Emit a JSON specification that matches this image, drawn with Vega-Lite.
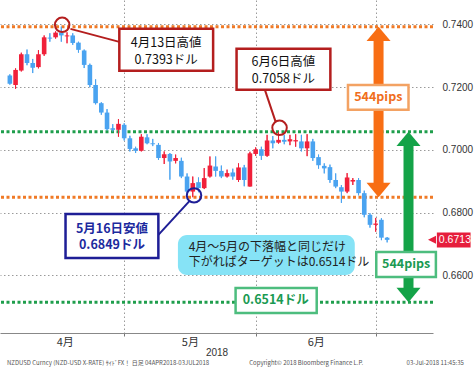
{
  "$schema": "https://vega.github.io/schema/vega-lite/v6.json",
  "width": 433,
  "height": 333,
  "autosize": {"type": "none"},
  "padding": {"left": 0, "top": 0, "right": 43, "bottom": 36},
  "background": "white",
  "config": {"view": {"stroke": null}},
  "datasets": {
    "candles": [
      {"date": "2018-04-02", "i": 0, "o": 0.7237, "h": 0.7241, "l": 0.7208, "c": 0.7211},
      {"date": "2018-04-03", "i": 1, "o": 0.7207, "h": 0.7260, "l": 0.7195, "c": 0.7255},
      {"date": "2018-04-04", "i": 2, "o": 0.7253, "h": 0.7310, "l": 0.7250, "c": 0.7305},
      {"date": "2018-04-05", "i": 3, "o": 0.7305, "h": 0.7320, "l": 0.7270, "c": 0.7277},
      {"date": "2018-04-06", "i": 4, "o": 0.7277, "h": 0.7290, "l": 0.7245, "c": 0.7262},
      {"date": "2018-04-09", "i": 5, "o": 0.7264, "h": 0.7318, "l": 0.7260, "c": 0.7305},
      {"date": "2018-04-10", "i": 6, "o": 0.7305, "h": 0.7365, "l": 0.7300, "c": 0.7359},
      {"date": "2018-04-11", "i": 7, "o": 0.7358, "h": 0.7372, "l": 0.7345, "c": 0.7355},
      {"date": "2018-04-12", "i": 8, "o": 0.7359, "h": 0.7378, "l": 0.7355, "c": 0.7374},
      {"date": "2018-04-13", "i": 9, "o": 0.7374, "h": 0.7393, "l": 0.7345, "c": 0.7365},
      {"date": "2018-04-16", "i": 10, "o": 0.7362, "h": 0.7375, "l": 0.7340, "c": 0.7365},
      {"date": "2018-04-17", "i": 11, "o": 0.7365, "h": 0.7372, "l": 0.7335, "c": 0.7341},
      {"date": "2018-04-18", "i": 12, "o": 0.7342, "h": 0.7345, "l": 0.7310, "c": 0.7319},
      {"date": "2018-04-19", "i": 13, "o": 0.7317, "h": 0.7320, "l": 0.7261, "c": 0.7271},
      {"date": "2018-04-20", "i": 14, "o": 0.7271, "h": 0.7275, "l": 0.7200, "c": 0.7207},
      {"date": "2018-04-23", "i": 15, "o": 0.7207, "h": 0.7225, "l": 0.7145, "c": 0.7149},
      {"date": "2018-04-24", "i": 16, "o": 0.7149, "h": 0.7152, "l": 0.7112, "c": 0.7119},
      {"date": "2018-04-25", "i": 17, "o": 0.7119, "h": 0.7130, "l": 0.7062, "c": 0.7066},
      {"date": "2018-04-26", "i": 18, "o": 0.7069, "h": 0.7082, "l": 0.7058, "c": 0.7064},
      {"date": "2018-04-27", "i": 19, "o": 0.7064, "h": 0.7098, "l": 0.7042, "c": 0.7083},
      {"date": "2018-04-30", "i": 20, "o": 0.7080, "h": 0.7085, "l": 0.7030, "c": 0.7037},
      {"date": "2018-05-01", "i": 21, "o": 0.7037, "h": 0.7045, "l": 0.6995, "c": 0.7003},
      {"date": "2018-05-02", "i": 22, "o": 0.7005, "h": 0.7010, "l": 0.6990, "c": 0.6997},
      {"date": "2018-05-03", "i": 23, "o": 0.6997, "h": 0.7050, "l": 0.6995, "c": 0.7042},
      {"date": "2018-05-04", "i": 24, "o": 0.7040, "h": 0.7050, "l": 0.7018, "c": 0.7021},
      {"date": "2018-05-07", "i": 25, "o": 0.7021, "h": 0.7035, "l": 0.7012, "c": 0.7018},
      {"date": "2018-05-08", "i": 26, "o": 0.7016, "h": 0.7022, "l": 0.6968, "c": 0.6974},
      {"date": "2018-05-09", "i": 27, "o": 0.6974, "h": 0.6995, "l": 0.6955, "c": 0.6986},
      {"date": "2018-05-10", "i": 28, "o": 0.6987, "h": 0.6990, "l": 0.6905, "c": 0.6963},
      {"date": "2018-05-11", "i": 29, "o": 0.6965, "h": 0.6985, "l": 0.6957, "c": 0.6974},
      {"date": "2018-05-14", "i": 30, "o": 0.6965, "h": 0.6975, "l": 0.6910, "c": 0.6915},
      {"date": "2018-05-15", "i": 31, "o": 0.6915, "h": 0.6925, "l": 0.6855, "c": 0.6867},
      {"date": "2018-05-16", "i": 32, "o": 0.6867, "h": 0.6915, "l": 0.6849, "c": 0.6894},
      {"date": "2018-05-17", "i": 33, "o": 0.6897, "h": 0.6912, "l": 0.6865, "c": 0.6878},
      {"date": "2018-05-18", "i": 34, "o": 0.6878, "h": 0.6942, "l": 0.6875, "c": 0.6910},
      {"date": "2018-05-21", "i": 35, "o": 0.6915, "h": 0.6979, "l": 0.6912, "c": 0.6950},
      {"date": "2018-05-22", "i": 36, "o": 0.6947, "h": 0.6979, "l": 0.6915, "c": 0.6933},
      {"date": "2018-05-23", "i": 37, "o": 0.6933, "h": 0.6950, "l": 0.6910, "c": 0.6915},
      {"date": "2018-05-24", "i": 38, "o": 0.6915, "h": 0.6937, "l": 0.6912, "c": 0.6926},
      {"date": "2018-05-25", "i": 39, "o": 0.6928, "h": 0.6940, "l": 0.6905, "c": 0.6915},
      {"date": "2018-05-28", "i": 40, "o": 0.6904, "h": 0.6957, "l": 0.6898, "c": 0.6944},
      {"date": "2018-05-29", "i": 41, "o": 0.6944, "h": 0.6952, "l": 0.6884, "c": 0.6904},
      {"date": "2018-05-30", "i": 42, "o": 0.6883, "h": 0.6994, "l": 0.6883, "c": 0.6989},
      {"date": "2018-05-31", "i": 43, "o": 0.6987, "h": 0.7008, "l": 0.6981, "c": 0.7002},
      {"date": "2018-06-01", "i": 44, "o": 0.7002, "h": 0.7010, "l": 0.6968, "c": 0.6981},
      {"date": "2018-06-04", "i": 45, "o": 0.6981, "h": 0.7048, "l": 0.6978, "c": 0.7030},
      {"date": "2018-06-05", "i": 46, "o": 0.7030, "h": 0.7044, "l": 0.7005, "c": 0.7021},
      {"date": "2018-06-06", "i": 47, "o": 0.7023, "h": 0.7058, "l": 0.7020, "c": 0.7032},
      {"date": "2018-06-07", "i": 48, "o": 0.7032, "h": 0.7048, "l": 0.7018, "c": 0.7026},
      {"date": "2018-06-08", "i": 49, "o": 0.7027, "h": 0.7048, "l": 0.7015, "c": 0.7034},
      {"date": "2018-06-11", "i": 50, "o": 0.7027, "h": 0.7050, "l": 0.7010, "c": 0.7031},
      {"date": "2018-06-12", "i": 51, "o": 0.7027, "h": 0.7048, "l": 0.6995, "c": 0.7005},
      {"date": "2018-06-13", "i": 52, "o": 0.7005, "h": 0.7050, "l": 0.6980, "c": 0.7027},
      {"date": "2018-06-14", "i": 53, "o": 0.7027, "h": 0.7035, "l": 0.6965, "c": 0.6974},
      {"date": "2018-06-15", "i": 54, "o": 0.6977, "h": 0.6985, "l": 0.6940, "c": 0.6951},
      {"date": "2018-06-18", "i": 55, "o": 0.6949, "h": 0.6957, "l": 0.6925, "c": 0.6941},
      {"date": "2018-06-19", "i": 56, "o": 0.6945, "h": 0.6953, "l": 0.6895, "c": 0.6904},
      {"date": "2018-06-20", "i": 57, "o": 0.6904, "h": 0.6925, "l": 0.6878, "c": 0.6883},
      {"date": "2018-06-21", "i": 58, "o": 0.6881, "h": 0.6888, "l": 0.6831, "c": 0.6867},
      {"date": "2018-06-22", "i": 59, "o": 0.6867, "h": 0.6926, "l": 0.6862, "c": 0.6912},
      {"date": "2018-06-25", "i": 60, "o": 0.6899, "h": 0.6910, "l": 0.6888, "c": 0.6904},
      {"date": "2018-06-26", "i": 61, "o": 0.6904, "h": 0.6910, "l": 0.6855, "c": 0.6862},
      {"date": "2018-06-27", "i": 62, "o": 0.6862, "h": 0.6870, "l": 0.6785, "c": 0.6793},
      {"date": "2018-06-28", "i": 63, "o": 0.6793, "h": 0.6798, "l": 0.6752, "c": 0.6761},
      {"date": "2018-06-29", "i": 64, "o": 0.6761, "h": 0.6783, "l": 0.6739, "c": 0.6765},
      {"date": "2018-07-02", "i": 65, "o": 0.6777, "h": 0.6782, "l": 0.6712, "c": 0.6720},
      {"date": "2018-07-03", "i": 66, "o": 0.6720, "h": 0.6722, "l": 0.6705, "c": 0.6713}
    ],
    "levels": [
      {"name": "4月13日高値", "kind": "orange", "p": 0.7393},
      {"name": "5月16日安値", "kind": "orange", "p": 0.6849},
      {"name": "6月6日高値", "kind": "green", "p": 0.7058},
      {"name": "ターゲット", "kind": "green", "p": 0.6514}
    ],
    "arrows": [
      {"kind": "orange", "i": 64.5, "top": 0.7393, "bottom": 0.6849},
      {"kind": "green", "i": 69.74, "top": 0.7058, "bottom": 0.6514}
    ],
    "leaders": [
      {"kind": "red", "i1": 10.6, "p1": 0.7386, "i2": 19.15, "p2": 0.73445},
      {"kind": "red", "i1": 44.62, "p1": 0.71914, "i2": 46.5, "p2": 0.70893},
      {"kind": "navy", "i1": 25.98, "p1": 0.67289, "i2": 31.45, "p2": 0.68374}
    ],
    "circles": [
      {"kind": "red", "i": 9.15, "p": 0.73987},
      {"kind": "red", "i": 47.18, "p": 0.70702},
      {"kind": "navy", "i": 32.22, "p": 0.68549}
    ],
    "boxes": [
      {"kind": "red", "i1": 19.15, "i2": 35.56, "p1": 0.7386, "p2": 0.7252},
      {"kind": "red", "i1": 39.66, "i2": 56.07, "p1": 0.73222, "p2": 0.71914},
      {"kind": "navy", "i1": 9.74, "i2": 25.98, "p1": 0.67958, "p2": 0.66555},
      {"kind": "orange", "i1": 59.15, "i2": 69.74, "p1": 0.72073, "p2": 0.71276},
      {"kind": "green", "i1": 64.1, "i2": 74.53, "p1": 0.66746, "p2": 0.65949},
      {"kind": "green", "i1": 39.49, "i2": 53.68, "p1": 0.65598, "p2": 0.64801}
    ],
    "notes": [
      {"kind": "cyan", "i1": 29.4, "i2": 60.34, "p1": 0.67289, "p2": 0.66013}
    ],
    "plainText": [
      {"i": 27.35, "p": 0.73413, "text": "4月13日高値"},
      {"i": 27.35, "p": 0.72871, "text": "0.7393ドル"},
      {"i": 47.86, "p": 0.72817, "text": "6月6日高値"},
      {"i": 47.86, "p": 0.72274, "text": "0.7058ドル"}
    ],
    "noteText": [
      {"i": 31.28, "p": 0.6689, "text": "4月～5月の下落幅と同じだけ"},
      {"i": 31.28, "p": 0.66427, "text": "下がればターゲットは0.6514ドル"}
    ],
    "boldText": [
      {"kind": "navy", "i": 17.86, "p": 0.6748, "text": "5月16日安値"},
      {"kind": "navy", "i": 17.86, "p": 0.6697, "text": "0.6849ドル"},
      {"kind": "orange", "i": 64.45, "p": 0.71675, "text": "544pips"},
      {"kind": "green", "i": 69.32, "p": 0.66348, "text": "544pips"},
      {"kind": "green", "i": 46.5, "p": 0.65199, "text": "0.6514ドル"}
    ],
    "last": [
      {"i1": 74.7, "i2": 80.6, "tip": 73.85, "p": 0.6713, "p1": 0.67364, "p2": 0.66886, "text": "0.6713"}
    ],
    "footer": [
      {"i": -0.51, "p": 0.6321, "text": "NZDUSD Curncy (NZD-USD X-RATE) ｻｲﾄﾞFX！   日足 04APR2018-03JUL2018"},
      {"i": 41.88, "p": 0.6321, "text": "Copyright© 2018 Bloomberg Finance L.P."},
      {"i": 69.4, "p": 0.6321, "text": "03-Jul-2018 11:45:35"}
    ]
  },
  "layer": [
    {
      "data": {"name": "candles"},
      "mark": {"type": "rule", "strokeWidth": 1},
      "encoding": {
        "x": {
          "field": "i", "type": "quantitative",
          "scale": {"domain": [-0.85, 73.15], "nice": false, "zero": false},
          "axis": {
            "orient": "bottom",
            "values": [9.6, 20, 31.5, 43, 53.5, 64],
            "labelExpr": "datum.value == 9.6 ? '4月' : datum.value == 31.5 ? '5月' : datum.value == 53.5 ? '6月' : ''",
            "grid": true,
            "gridColor": "#9a9a9a",
            "gridDash": [1.5, 2.5],
            "gridWidth": 1,
            "gridOpacity": {"condition": {"test": "datum.value == 20 || datum.value == 43 || datum.value == 64", "value": 1}, "value": 0},
            "tickOpacity": {"condition": {"test": "datum.value == 20 || datum.value == 43 || datum.value == 64", "value": 1}, "value": 0},
            "tickColor": "#777",
            "tickSize": 3,
            "domainColor": "#888",
            "domainWidth": 1,
            "labelFont": "Noto Sans CJK JP",
            "labelFontSize": 11,
            "labelColor": "#333",
            "labelPadding": 0,
            "labelFlush": false,
            "labelOverlap": false,
            "title": "2018",
            "titleFont": "Liberation Sans",
            "titleFontSize": 10,
            "titleFontWeight": "normal",
            "titleColor": "#333",
            "titlePadding": 0
          }
        },
        "y": {
          "field": "l", "type": "quantitative",
          "scale": {"domain": [0.6416, 0.7478], "nice": false, "zero": false},
          "axis": {
            "orient": "right",
            "values": [0.66, 0.68, 0.70, 0.72, 0.74],
            "format": ".4f",
            "grid": true,
            "gridColor": "#9a9a9a",
            "gridDash": [1.5, 2.5],
            "gridWidth": 1,
            "domain": false,
            "ticks": false,
            "labelPadding": 9,
            "labelFont": "Liberation Sans",
            "labelFontSize": 10,
            "labelColor": "#333",
            "title": null
          }
        },
        "y2": {"field": "h"},
        "color": {"condition": {"test": "datum.c >= datum.o", "value": "#f0203a"}, "value": "#4aa3f0"}
      }
    },
    {
      "data": {"name": "levels"},
      "transform": [{"filter": "datum.kind == 'orange'"}],
      "mark": {"type": "rule", "color": "#f07a26", "strokeWidth": 3, "strokeDash": [3, 2.5]},
      "encoding": {"y": {"field": "p", "type": "quantitative"}}
    },
    {
      "data": {"name": "levels"},
      "transform": [{"filter": "datum.kind == 'green'"}],
      "mark": {"type": "rule", "color": "#1f9e4c", "strokeWidth": 3, "strokeDash": [3, 2.5]},
      "encoding": {"y": {"field": "p", "type": "quantitative"}}
    },
    {
      "data": {"name": "candles"},
      "mark": {"type": "rule", "strokeWidth": 1},
      "encoding": {
        "x": {"field": "i", "type": "quantitative"},
        "y": {"field": "l", "type": "quantitative"},
        "y2": {"field": "h"},
        "color": {"condition": {"test": "datum.c >= datum.o", "value": "#f0203a"}, "value": "#4aa3f0"}
      }
    },
    {
      "data": {"name": "candles"},
      "mark": {"type": "bar", "size": 4.6},
      "encoding": {
        "x": {"field": "i", "type": "quantitative"},
        "y": {"field": "o", "type": "quantitative"},
        "y2": {"field": "c"},
        "color": {"condition": {"test": "datum.c >= datum.o", "value": "#f0203a"}, "value": "#4aa3f0"}
      }
    },
    {
      "data": {"name": "arrows"},
      "mark": {"type": "rule", "strokeWidth": 10, "strokeCap": "butt", "yOffset": 12, "y2Offset": -12},
      "encoding": {
        "x": {"field": "i", "type": "quantitative"},
        "y": {"field": "top", "type": "quantitative"},
        "y2": {"field": "bottom"},
        "color": {"condition": {"test": "datum.kind == 'orange'", "value": "#f86e14"}, "value": "#14a348"}
      }
    },
    {
      "data": {"name": "arrows"},
      "mark": {"type": "point", "shape": "M0,0 L1,1.2 L-1,1.2 Z", "size": 576, "filled": true, "opacity": 1},
      "encoding": {
        "x": {"field": "i", "type": "quantitative"},
        "y": {"field": "top", "type": "quantitative"},
        "color": {"condition": {"test": "datum.kind == 'orange'", "value": "#f86e14"}, "value": "#14a348"}
      }
    },
    {
      "data": {"name": "arrows"},
      "mark": {"type": "point", "shape": "M0,0 L1,-1.2 L-1,-1.2 Z", "size": 576, "filled": true, "opacity": 1},
      "encoding": {
        "x": {"field": "i", "type": "quantitative"},
        "y": {"field": "bottom", "type": "quantitative"},
        "color": {"condition": {"test": "datum.kind == 'orange'", "value": "#f86e14"}, "value": "#14a348"}
      }
    },
    {
      "data": {"name": "leaders"},
      "mark": {"type": "rule", "strokeWidth": 2},
      "encoding": {
        "x": {"field": "i1", "type": "quantitative"},
        "x2": {"field": "i2"},
        "y": {"field": "p1", "type": "quantitative"},
        "y2": {"field": "p2"},
        "color": {"condition": {"test": "datum.kind == 'red'", "value": "#b41e1e"}, "value": "#1e1e96"}
      }
    },
    {
      "data": {"name": "circles"},
      "mark": {"type": "point", "shape": "circle", "size": 210, "filled": false, "strokeWidth": 2, "opacity": 1},
      "encoding": {
        "x": {"field": "i", "type": "quantitative"},
        "y": {"field": "p", "type": "quantitative"},
        "color": {"condition": {"test": "datum.kind == 'red'", "value": "#b41e1e"}, "value": "#1e1e96"}
      }
    },
    {
      "data": {"name": "boxes"},
      "mark": {"type": "rect", "fill": "white", "strokeWidth": 2.5},
      "encoding": {
        "x": {"field": "i1", "type": "quantitative"},
        "x2": {"field": "i2"},
        "y": {"field": "p1", "type": "quantitative"},
        "y2": {"field": "p2"},
        "stroke": {"condition": [
          {"test": "datum.kind == 'red'", "value": "#b41e1e"},
          {"test": "datum.kind == 'navy'", "value": "#1e1e96"},
          {"test": "datum.kind == 'orange'", "value": "#f3a263"}
        ], "value": "#4dbd7e"}
      }
    },
    {
      "data": {"name": "notes"},
      "mark": {"type": "rect", "fill": "#86e3f6", "cornerRadius": 9},
      "encoding": {
        "x": {"field": "i1", "type": "quantitative"},
        "x2": {"field": "i2"},
        "y": {"field": "p1", "type": "quantitative"},
        "y2": {"field": "p2"}
      }
    },
    {
      "data": {"name": "plainText"},
      "mark": {"type": "text", "font": "Noto Sans CJK JP", "fontSize": 12.5, "color": "#111", "align": "center", "baseline": "middle"},
      "encoding": {
        "x": {"field": "i", "type": "quantitative"},
        "y": {"field": "p", "type": "quantitative"},
        "text": {"field": "text"}
      }
    },
    {
      "data": {"name": "noteText"},
      "mark": {"type": "text", "font": "Noto Sans CJK JP", "fontSize": 12, "color": "#222", "align": "left", "baseline": "middle"},
      "encoding": {
        "x": {"field": "i", "type": "quantitative"},
        "y": {"field": "p", "type": "quantitative"},
        "text": {"field": "text"}
      }
    },
    {
      "data": {"name": "boldText"},
      "mark": {"type": "text", "font": "Noto Sans CJK JP", "fontSize": 12.5, "fontWeight": "bold", "align": "center", "baseline": "middle"},
      "encoding": {
        "x": {"field": "i", "type": "quantitative"},
        "y": {"field": "p", "type": "quantitative"},
        "text": {"field": "text"},
        "color": {"condition": [
          {"test": "datum.kind == 'navy'", "value": "#1c2a9e"},
          {"test": "datum.kind == 'orange'", "value": "#f06e1c"}
        ], "value": "#1a9a52"}
      }
    },
    {
      "data": {"name": "last"},
      "mark": {"type": "rect", "color": "#e61e3c", "opacity": 1},
      "encoding": {
        "x": {"field": "i1", "type": "quantitative"},
        "x2": {"field": "i2"},
        "y": {"field": "p1", "type": "quantitative"},
        "y2": {"field": "p2"}
      }
    },
    {
      "data": {"name": "last"},
      "mark": {"type": "point", "shape": "M-1,0 L1,-1 L1,1 Z", "size": 64, "filled": true, "color": "#e61e3c", "opacity": 1},
      "encoding": {
        "x": {"field": "tip", "type": "quantitative"},
        "y": {"field": "p", "type": "quantitative"}
      }
    },
    {
      "data": {"name": "last"},
      "mark": {"type": "text", "font": "Liberation Sans", "fontSize": 10.5, "color": "white", "align": "left", "baseline": "middle", "dx": 2},
      "encoding": {
        "x": {"field": "i1", "type": "quantitative"},
        "y": {"field": "p", "type": "quantitative"},
        "text": {"field": "text"}
      }
    },
    {
      "data": {"name": "footer"},
      "mark": {"type": "text", "font": "Noto Sans CJK JP", "fontSize": 6, "color": "#555", "align": "left", "baseline": "middle"},
      "encoding": {
        "x": {"field": "i", "type": "quantitative"},
        "y": {"field": "p", "type": "quantitative"},
        "text": {"field": "text"}
      }
    }
  ]
}
